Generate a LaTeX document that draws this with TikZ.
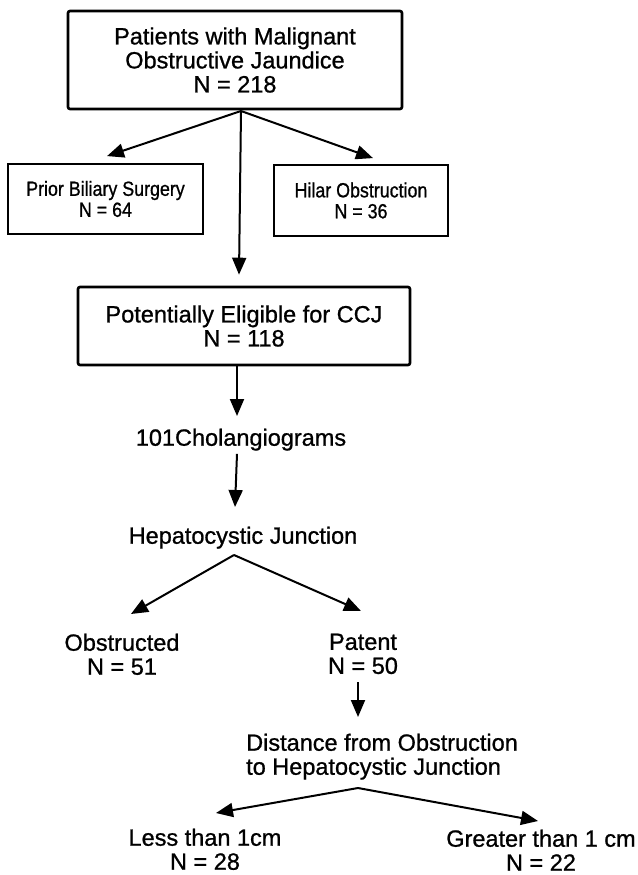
\documentclass[tikz,border=0pt]{standalone}
\usepackage{fontspec}
\setmainfont{Liberation Sans}[FakeBold=0.9]
\newfontfamily\heavyfont{Liberation Sans}[FakeBold=0.9]
\newfontfamily\narrowfont{Liberation Sans}[FakeStretch=0.87,FakeBold=0.9]
\usetikzlibrary{arrows.meta,calc}

\begin{document}
\begin{tikzpicture}[x=1pt,y=-1pt,
  font=\heavyfont\fontsize{23.5}{24}\selectfont,
  bigbox/.style={draw,line width=2.6pt,rounded corners=2pt,align=center,inner sep=0pt},
  smallbox/.style={draw,line width=1.8pt,align=center,inner sep=0pt,font=\narrowfont\fontsize{20.5}{21}\selectfont},
  txt/.style={align=center,inner sep=0pt,anchor=north},
  arr/.style={line width=2pt,-{Triangle[length=17pt,width=14pt]}}]
\useasboundingbox (0,0) rectangle (637,875);

% boxes
\node[bigbox,minimum width=334pt,minimum height=98pt] (patients) at (235,60) {Patients with Malignant\\Obstructive Jaundice\\N = 218};
\node[smallbox,minimum width=195pt,minimum height=70pt] (prior) at (105.5,199) {Prior Biliary Surgery\\N = 64};
\node[smallbox,minimum width=174pt,minimum height=71pt] (hilar) at (361,200.5) {Hilar Obstruction\\N = 36};
\node[bigbox,minimum width=332pt,minimum height=78pt] (elig) at (244,326) {Potentially Eligible for CCJ\\N = 118};

% plain text steps
\node[txt] (chol) at (241,428.5) {101Cholangiograms};
\node[txt] (hep) at (243,526.5) {Hepatocystic Junction};
\node[txt] (obst) at (122,633.5) {Obstructed\\N = 51};
\node[txt] (patent) at (363,633.5) {Patent\\N = 50};
\node[txt,anchor=north west,align=left] (dist) at (246,733.5) {Distance from Obstruction\\to Hepatocystic Junction};
\node[txt] (less) at (205,828.5) {Less than 1cm\\N = 28};
\node[txt] (greater) at (541,829.5) {Greater than 1 cm\\N = 22};

\coordinate (topfork) at (241,111);
\coordinate (hepfork) at (234,555);
\coordinate (distfork) at (358,788);

% connectors
\draw[arr] (topfork) -- ([xshift=1.5pt,yshift=7pt]prior.north);
\draw[arr] (topfork) -- ([xshift=12pt,yshift=6pt]hilar.north);
\draw[arr] (topfork) -- ([xshift=-5pt,yshift=11pt]elig.north);
\draw[arr] ([xshift=-7pt]elig.south) -- ([xshift=-4pt,yshift=12.5pt]chol.north);
\draw[arr] ([xshift=-4pt,yshift=-3pt]chol.south) -- ([xshift=-8pt,yshift=19.5pt]hep.north);
\draw[arr] (hepfork) -- ([xshift=9pt,yshift=19.5pt]obst.north);
\draw[arr] (hepfork) -- ([xshift=-2pt,yshift=22.5pt]patent.north);
\draw[arr] ([xshift=-5pt,yshift=-8pt]patent.south) -- ([xshift=112pt,yshift=16.5pt]dist.north west);
\draw[arr] (distfork) -- ([xshift=11pt,yshift=15.5pt]less.north);
\draw[arr] (distfork) -- ([xshift=-3pt,yshift=8.5pt]greater.north);
\end{tikzpicture}
\end{document}
